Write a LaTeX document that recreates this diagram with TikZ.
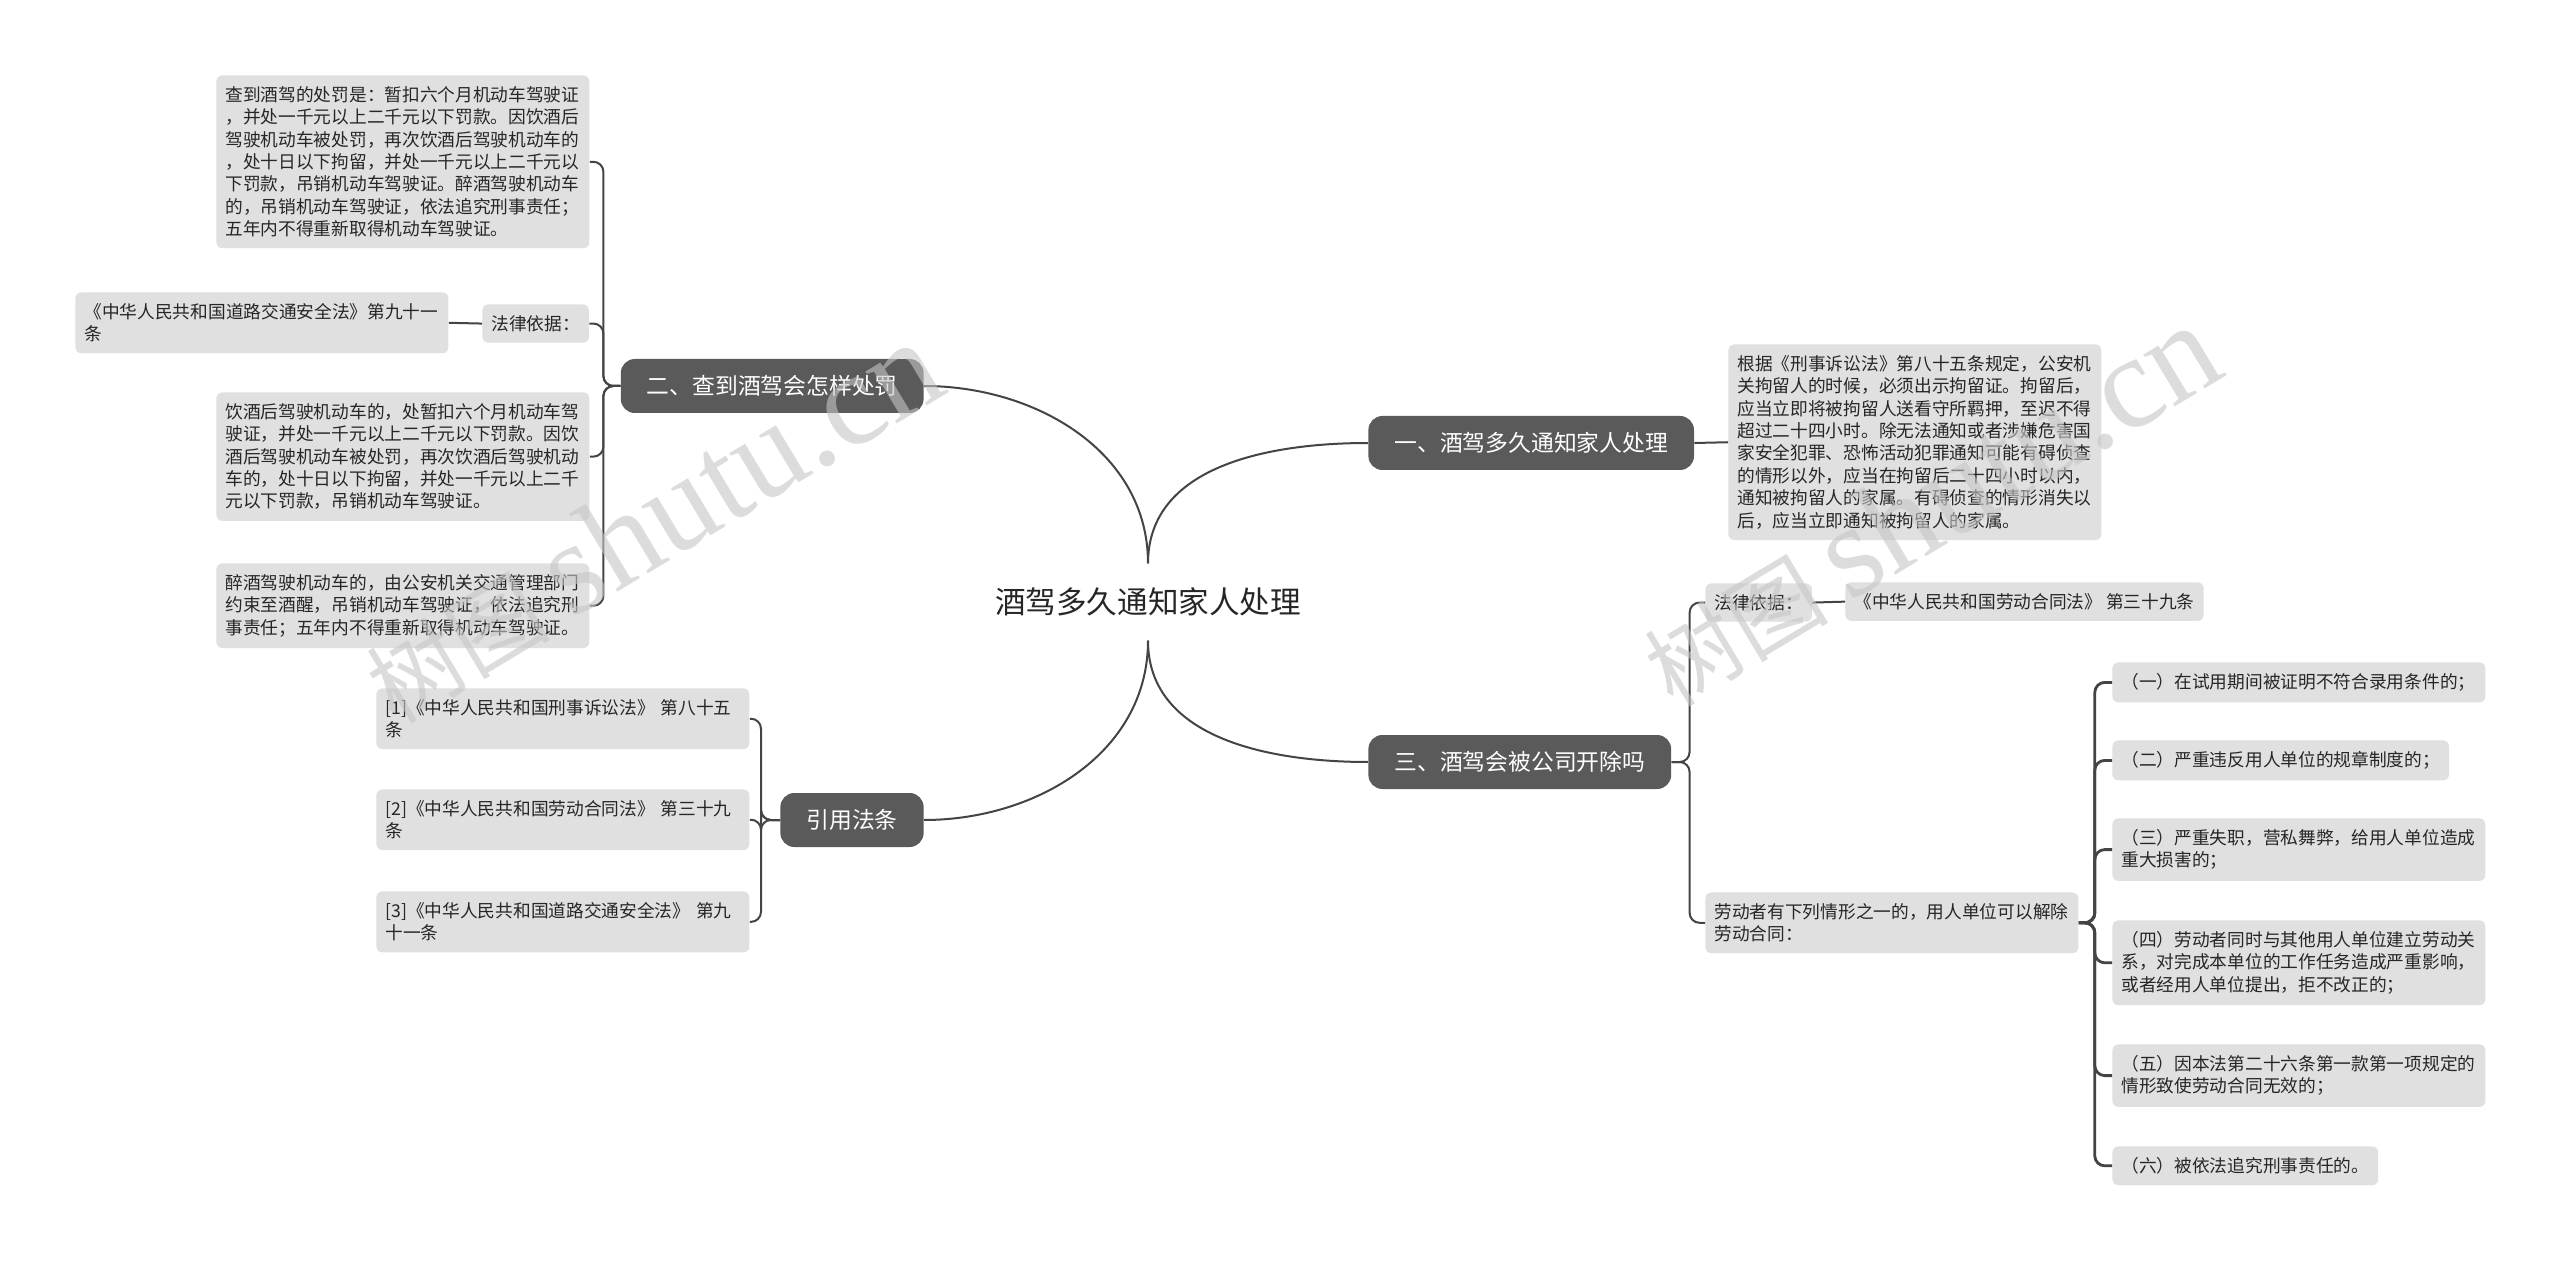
\documentclass[tikz,border=0pt]{standalone}
\usepackage{fontspec}
\setmainfont{Noto Sans CJK SC}
\newfontfamily\wmserif{Liberation Serif}
\usepackage{tikz}

\definecolor{topicC}{HTML}{5A5A5A}
\definecolor{leafC}{HTML}{E0E0E0}
\definecolor{lineC}{HTML}{444444}
\definecolor{textC}{HTML}{262626}

\tikzset{
  rootnode/.style={text=textC, font=\fontsize{15.3}{18}\selectfont, inner ysep=12pt},
  topic/.style={fill=topicC, text=white, rounded corners=7pt, font=\fontsize{11.4}{14}\selectfont,
    inner xsep=13pt, minimum height=27pt},
  leaf/.style={fill=leafC, text=textC, rounded corners=3pt, font=\fontsize{8.85}{11.2}\selectfont,
    inner xsep=4.5pt, inner ysep=5.5pt, align=left, anchor=north west},
  longleaf/.style={leaf, text width=177.5pt},
  link/.style={draw=lineC, line width=1pt},
  brace/.style={link, rounded corners=5pt},
  wmark/.style={text=gray!45, opacity=.6, rotate=31, font=\fontsize{46}{46}\selectfont},
}

\begin{document}
\begin{tikzpicture}[x=0.5pt, y=-0.5pt]
\useasboundingbox (0,0) rectangle (2560,1262);
\fill[white] (0,0) rectangle (2560,1262);

\node[rootnode] (root) at (1148,602) {酒驾多久通知家人处理};

% left: 二
\node[topic, anchor=east] (penalty) at (924,386) {二、查到酒驾会怎样处罚};
\node[longleaf] (penaltyA) at (216,75) {查到酒驾的处罚是：暂扣六个月机动车驾驶证\\，并处一千元以上二千元以下罚款。因饮酒后\\驾驶机动车被处罚，再次饮酒后驾驶机动车的\\，处十日以下拘留，并处一千元以上二千元以\\下罚款，吊销机动车驾驶证。醉酒驾驶机动车\\的，吊销机动车驾驶证，依法追究刑事责任；\\五年内不得重新取得机动车驾驶证。};
\node[leaf] (penaltyLaw) at (482,304) {法律依据：};
\node[longleaf] (penaltyLawSrc) at (75,292) {《中华人民共和国道路交通安全法》第九十一\\条};
\node[longleaf] (penaltyB) at (216,392) {饮酒后驾驶机动车的，处暂扣六个月机动车驾\\驶证，并处一千元以上二千元以下罚款。因饮\\酒后驾驶机动车被处罚，再次饮酒后驾驶机动\\车的，处十日以下拘留，并处一千元以上二千\\元以下罚款，吊销机动车驾驶证。};
\node[longleaf] (penaltyC) at (216,563) {醉酒驾驶机动车的，由公安机关交通管理部门\\约束至酒醒，吊销机动车驾驶证，依法追究刑\\事责任；五年内不得重新取得机动车驾驶证。};

% left: 引用法条
\node[topic, anchor=east] (cite) at (924,820) {引用法条};
\node[longleaf] (cite1) at (376,688) {[1]《中华人民共和国刑事诉讼法》 第八十五\\条};
\node[longleaf] (cite2) at (376,789) {[2]《中华人民共和国劳动合同法》 第三十九\\条};
\node[longleaf] (cite3) at (376,891) {[3]《中华人民共和国道路交通安全法》 第九\\十一条};

% right: 一
\node[topic, anchor=west] (notify) at (1368,443) {一、酒驾多久通知家人处理};
\node[longleaf] (notifyA) at (1728,344) {根据《刑事诉讼法》第八十五条规定，公安机\\关拘留人的时候，必须出示拘留证。拘留后，\\应当立即将被拘留人送看守所羁押，至迟不得\\超过二十四小时。除无法通知或者涉嫌危害国\\家安全犯罪、恐怖活动犯罪通知可能有碍侦查\\的情形以外，应当在拘留后二十四小时以内，\\通知被拘留人的家属。有碍侦查的情形消失以\\后，应当立即通知被拘留人的家属。};

% right: 三
\node[topic, anchor=west] (fired) at (1368,762) {三、酒驾会被公司开除吗};
\node[leaf] (firedLaw) at (1705,583) {法律依据：};
\node[leaf] (firedLawSrc) at (1845,582) {《中华人民共和国劳动合同法》 第三十九条};
\node[longleaf] (firedCase) at (1705,892) {劳动者有下列情形之一的，用人单位可以解除\\劳动合同：};
\node[longleaf] (case1) at (2112,662) {（一）在试用期间被证明不符合录用条件的；};
\node[leaf] (case2) at (2112,740) {（二）严重违反用人单位的规章制度的；};
\node[longleaf] (case3) at (2112,818) {（三）严重失职，营私舞弊，给用人单位造成\\重大损害的；};
\node[longleaf] (case4) at (2112,920) {（四）劳动者同时与其他用人单位建立劳动关\\系，对完成本单位的工作任务造成严重影响，\\或者经用人单位提出，拒不改正的；};
\node[longleaf] (case5) at (2112,1044) {（五）因本法第二十六条第一款第一项规定的\\情形致使劳动合同无效的；};
\node[leaf] (case6) at (2112,1146) {（六）被依法追究刑事责任的。};

% connectors
\draw[link] (root.north) to[out=90,in=0] (penalty.east);
\draw[link] (root.north) to[out=90,in=180] (notify.west);
\draw[link] (root.south) to[out=-90,in=180] (fired.west);
\draw[link] (root.south) to[out=-90,in=0] (cite.east);

\foreach \c in {penaltyA,penaltyLaw,penaltyB,penaltyC}
  \draw[brace] (penalty.west) -- ++(-17,0) |- (\c.east);
\draw[link] (penaltyLaw.west) -- (penaltyLawSrc.east);
\foreach \c in {cite1,cite2,cite3}
  \draw[brace] (cite.west) -- ++(-19,0) |- (\c.east);
\draw[link] (notify.east) -- (notifyA.west);
\foreach \c in {firedLaw,firedCase}
  \draw[brace] (fired.east) -- ++(18,0) |- (\c.west);
\draw[link] (firedLaw.east) -- (firedLawSrc.west);
\foreach \i in {1,...,6}
  \draw[brace, line width=1.4pt] (firedCase.east) -- ++(16,0) |- (case\i.west);

% watermarks
\node[wmark] (wmL) at (652,522) {树图 {\wmserif\fontsize{66}{66}\selectfont shutu.cn}};
\node[wmark] (wmR) at (1930,505) {树图 {\wmserif\fontsize{66}{66}\selectfont shutu.cn}};
\end{tikzpicture}
\end{document}
